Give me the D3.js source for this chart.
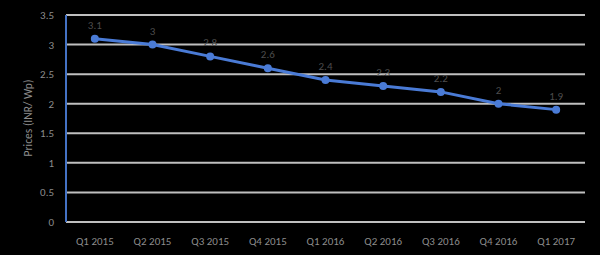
<!DOCTYPE html>
<meta charset="utf-8">
<head>
    <title>Prices (INR/ Wp)</title>
    <script type="text/javascript" src="https://d3js.org/d3.v7.min.js"></script>
    <style type="text/css">
        body { margin: 0; background: #000; }
        svg { display: block; }
    </style>
</head>
<body>
    <div id="chart"></div>
    <script>
        // data
        var quarters = ["Q1 2015", "Q2 2015", "Q3 2015", "Q4 2015", "Q1 2016", "Q2 2016", "Q3 2016", "Q4 2016", "Q1 2017"];
        var prices = [3.1, 3, 2.8, 2.6, 2.4, 2.3, 2.2, 2, 1.9];
        var yTicks = [0, 0.5, 1, 1.5, 2, 2.5, 3, 3.5];

        var width = 600, height = 255;
        var margin = {top: 15, right: 15, bottom: 33, left: 66};

        var svg = d3.select("#chart").append("svg")
            .attr("width", width)
            .attr("height", height)
            .style("background", "#000");

        var x = d3.scaleBand()
            .domain(quarters)
            .range([margin.left, width - margin.right]);

        var y = d3.scaleLinear()
            .domain([0, 3.5])
            .range([height - margin.bottom, margin.top]);

        var font = "Carlito, 'Liberation Sans', sans-serif";

        // gridlines
        svg.selectAll(".grid")
            .data(yTicks)
            .enter()
            .append("line")
            .attr("x1", margin.left)
            .attr("x2", width - margin.right)
            .attr("y1", d => y(d))
            .attr("y2", d => y(d))
            .attr("stroke", "#bfbfbf")
            .attr("stroke-width", 2);

        // y tick labels
        svg.selectAll(".ytick")
            .data(yTicks)
            .enter()
            .append("text")
            .attr("x", 54)
            .attr("y", d => y(d) + 4)
            .attr("text-anchor", "end")
            .style("font-family", font)
            .style("font-size", "11px")
            .attr("fill", "#8c8c8c")
            .text(d => d);

        // blue vertical axis
        svg.append("line")
            .attr("x1", margin.left)
            .attr("x2", margin.left)
            .attr("y1", y(3.5))
            .attr("y2", y(0))
            .attr("stroke", "#4472c4")
            .attr("stroke-width", 2);

        // x tick labels
        svg.selectAll(".xtick")
            .data(quarters)
            .enter()
            .append("text")
            .attr("x", d => x(d) + x.bandwidth() / 2)
            .attr("y", 245)
            .attr("text-anchor", "middle")
            .style("font-family", font)
            .style("font-size", "11px")
            .attr("fill", "#8c8c8c")
            .text(d => d);

        // y axis title
        svg.append("text")
            .attr("transform", "translate(32,118) rotate(-90)")
            .attr("text-anchor", "middle")
            .style("font-family", font)
            .style("font-size", "11.5px")
            .attr("fill", "#8c8c8c")
            .text("Prices (INR/ Wp)");

        var line = d3.line()
            .x((d, i) => x(quarters[i]) + x.bandwidth() / 2)
            .y(d => y(d));

        svg.append("path")
            .datum(prices)
            .attr("d", line)
            .attr("fill", "none")
            .attr("stroke", "#4a7bd6")
            .attr("stroke-width", 3);

        svg.selectAll(".dot")
            .data(prices)
            .enter()
            .append("circle")
            .attr("cx", (d, i) => x(quarters[i]) + x.bandwidth() / 2)
            .attr("cy", d => y(d))
            .attr("r", 4)
            .attr("fill", "#4a7bd6");

        // data labels
        svg.selectAll(".lbl")
            .data(prices)
            .enter()
            .append("text")
            .attr("x", (d, i) => x(quarters[i]) + x.bandwidth() / 2)
            .attr("y", d => y(d) - 10)
            .attr("text-anchor", "middle")
            .style("font-family", font)
            .style("font-size", "11px")
            .attr("fill", "#4d4d4d")
            .text(d => d);
    </script>
</body>
</html>
